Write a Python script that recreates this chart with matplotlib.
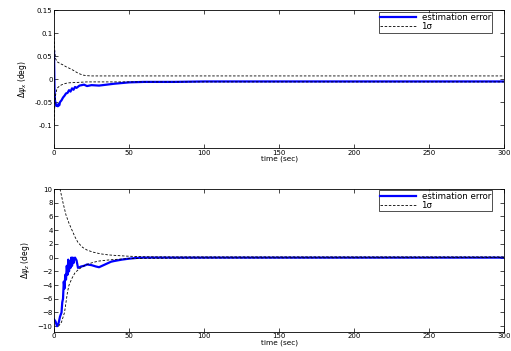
import numpy as np
import matplotlib
matplotlib.use('Agg')
import matplotlib.pyplot as plt

# top panel: estimation error and 1 sigma bounds
t_err1 = [0, 0.3, 0.6, 1, 1.5, 2, 2.5, 3, 3.5, 4, 5, 6, 7, 8, 9, 10, 11, 12, 13, 14, 15,
          17, 20, 22, 25, 30, 35, 40, 50, 60, 80, 100, 150, 200, 250, 300]
err1 = [0.06, -0.02, -0.045, -0.052, -0.058, -0.056, -0.059, -0.054, -0.057, -0.05, -0.046,
        -0.04, -0.036, -0.031, -0.03, -0.024, -0.027, -0.02, -0.023, -0.017, -0.019,
        -0.014, -0.012, -0.015, -0.013, -0.014, -0.012, -0.01, -0.007, -0.006, -0.006,
        -0.005, -0.005, -0.005, -0.005, -0.005]
t_sig1 = [0, 0.5, 1, 2, 4, 6, 8, 10, 13, 16, 19, 22, 25, 30, 50, 100, 200, 300]
sig1_up = [0.1, 0.06, 0.045, 0.038, 0.034, 0.031, 0.027, 0.024, 0.019, 0.013, 0.009,
           0.0075, 0.007, 0.007, 0.007, 0.007, 0.007, 0.007]
sig1_lo = [-0.1, -0.06, -0.035, -0.02, -0.014, -0.011, -0.009, -0.008, -0.0075, -0.007,
           -0.0065, -0.006, -0.006, -0.006, -0.006, -0.006, -0.006, -0.006]

# bottom panel
t_err2 = [0, 1, 2, 3, 4, 5, 5.5, 6, 6.5, 7, 7.5, 8, 8.5, 9, 9.5, 10, 10.5, 11, 11.5, 12,
          12.5, 13, 13.5, 14, 15, 16, 18, 20, 22, 25, 28, 30, 33, 35, 38, 40, 45, 50, 55,
          60, 80, 100, 150, 200, 250, 300]
err2 = [-9.0, -9.3, -10.0, -9.6, -8.6, -8.0, -6.5, -6.0, -3.5, -4.5, -2.5, -3.2, -1.2,
        -2.5, -0.3, -2.0, -0.6, -1.5, 0.0, -1.2, 0.0, -0.8, -0.2, 0.0, -0.4, -1.5, -1.3,
        -1.2, -1.0, -1.1, -1.3, -1.4, -1.1, -0.9, -0.6, -0.5, -0.3, -0.15, -0.05, 0.0,
        0.0, 0.0, 0.0, 0.0, 0.0, 0.0]
t_sig2 = [4, 6, 8, 10, 12, 14, 16, 19, 22, 26, 31, 36, 42, 50, 60, 80, 100, 300]
sig2_up = [10.0, 8.0, 6.2, 5.0, 4.0, 3.0, 2.2, 1.5, 1.1, 0.8, 0.55, 0.4, 0.3, 0.2, 0.12,
           0.1, 0.1, 0.1]
t_sig2l = [3, 5, 7, 8, 9, 10, 12, 14, 16, 19, 22, 26, 30, 36, 42, 50, 60, 100, 300]
sig2_lo = [-10.0, -9.4, -8.0, -6.5, -5.0, -4.0, -3.0, -2.2, -1.8, -1.3, -1.0, -0.7,
           -0.5, -0.35, -0.25, -0.15, -0.1, -0.05, 0.0]

plt.rcParams['font.family'] = 'DejaVu Sans'
fig = plt.figure(figsize=(5.11, 3.51), dpi=100)
ax1 = fig.add_axes([0.1057, 0.578, 0.881, 0.393])
ax2 = fig.add_axes([0.1057, 0.055, 0.881, 0.4065])

dash = (0, (3, 2))
for ax, te, e, ts, su, tl, sl in [(ax1, t_err1, err1, t_sig1, sig1_up, t_sig1, sig1_lo),
                                  (ax2, t_err2, err2, t_sig2, sig2_up, t_sig2l, sig2_lo)]:
    ax.plot(te, e, color='#0000ff', lw=1.6, label='estimation error')
    ax.plot(ts, su, color='black', lw=0.6, ls=dash, label='1\u03c3')
    ax.plot(tl, sl, color='black', lw=0.6, ls=dash)
    ax.set_xlim(0, 300)
    ax.set_xticks([0, 50, 100, 150, 200, 250, 300])
    ax.tick_params(direction='in', top=True, right=True, labelsize=5, length=3, width=0.5, pad=1)
    for s in ax.spines.values():
        s.set_linewidth(0.6)
    ax.set_xlabel('time (sec)', fontsize=5.3, labelpad=0)
    leg = ax.legend(loc='upper right', bbox_to_anchor=(0.973, 0.99), fontsize=6.2,
                    frameon=True, fancybox=False, edgecolor='black', borderpad=0.15,
                    handlelength=4.2, handletextpad=0.6, labelspacing=0.05, borderaxespad=0)
    leg.get_frame().set_linewidth(0.6)

ax1.set_ylim(-0.15, 0.15)
ax1.set_yticks([-0.1, -0.05, 0, 0.05, 0.1, 0.15])
ax1.set_yticklabels(['-0.1', '-0.05', '0', '0.05', '0.1', '0.15'])
ax1.set_ylabel(r'$\Delta\psi_x$ (deg)', fontsize=5.5, labelpad=4)

ax2.set_ylim(-10.8, 10)
ax2.set_yticks(list(range(-10, 11, 2)))
ax2.set_ylabel(r'$\Delta\psi_z$ (deg)', fontsize=5.5, labelpad=4)

fig.savefig('out.png', dpi=100)
